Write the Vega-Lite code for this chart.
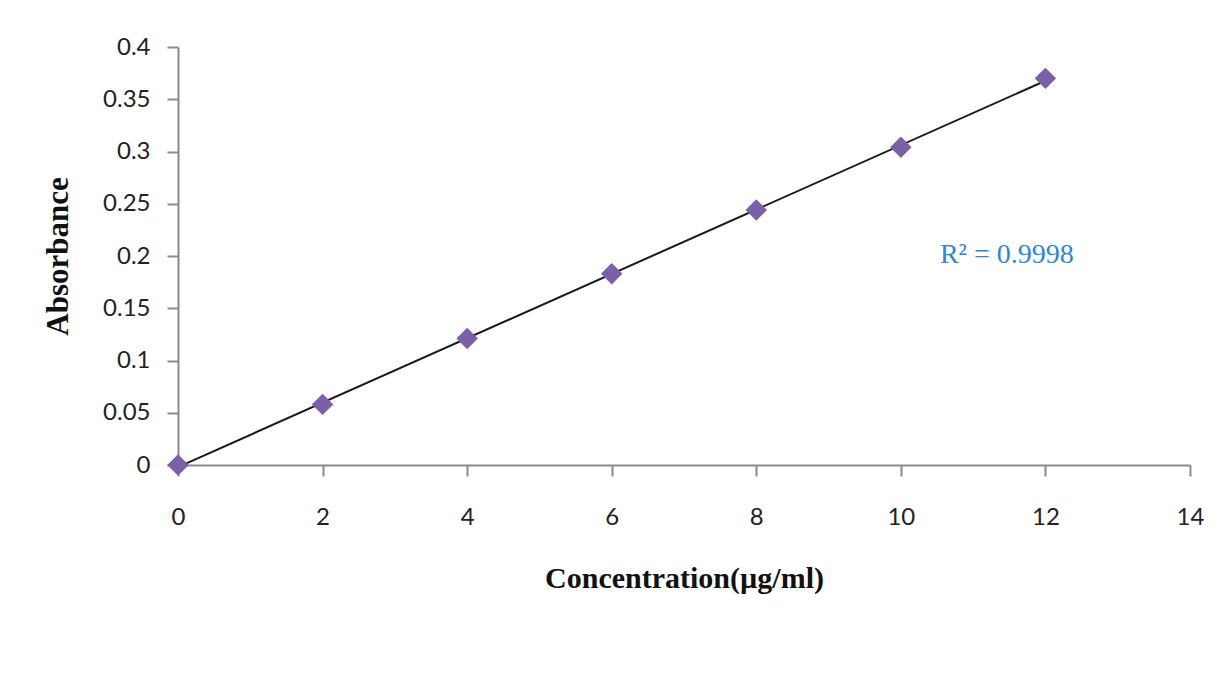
{
  "$schema": "https://vega.github.io/schema/vega-lite/v6.json",
  "autosize": "none",
  "width": 1012,
  "height": 418,
  "padding": {"left": 178, "top": 47, "right": 38, "bottom": 208},
  "background": "white",
  "config": {"view": {"stroke": null}},
  "datasets": {
    "pts": [
      {"conc": 0, "abs": 0.0},
      {"conc": 2, "abs": 0.058},
      {"conc": 4, "abs": 0.121},
      {"conc": 6, "abs": 0.183},
      {"conc": 8, "abs": 0.244},
      {"conc": 10, "abs": 0.304},
      {"conc": 12, "abs": 0.370}
    ],
    "ann": [{"conc": 10.54, "abs": 0.201, "label": "R² = 0.9998"}]
  },
  "layer": [
    {
      "data": {"name": "pts"},
      "transform": [{"regression": "abs", "on": "conc", "extent": [0, 12]}],
      "mark": {"type": "line", "color": "#1a1a1a", "strokeWidth": 2},
      "encoding": {
        "x": {"field": "conc", "type": "quantitative"},
        "y": {"field": "abs", "type": "quantitative"}
      }
    },
    {
      "data": {"name": "pts"},
      "mark": {"type": "point", "shape": "diamond", "filled": true, "color": "#7d5fa8", "size": 460, "opacity": 1},
      "encoding": {
        "x": {
          "field": "conc", "type": "quantitative",
          "scale": {"domain": [0, 14], "nice": false},
          "axis": {
            "values": [0, 2, 4, 6, 8, 10, 12, 14],
            "format": "~g",
            "labelFlush": false,
            "grid": false,
            "domainColor": "#8a8a8a", "domainWidth": 2,
            "tickColor": "#8a8a8a", "tickWidth": 2, "tickSize": 11,
            "labelFont": "Lato", "labelFontSize": 24, "labelColor": "#222222",
            "labelPadding": 29,
            "title": "Concentration(µg/ml)",
            "titleFont": "Liberation Serif", "titleFontSize": 30, "titleFontWeight": "bold",
            "titleColor": "#111111", "titlePadding": 34
          }
        },
        "y": {
          "field": "abs", "type": "quantitative",
          "scale": {"domain": [0, 0.4], "nice": false},
          "axis": {
            "values": [0, 0.05, 0.1, 0.15, 0.2, 0.25, 0.3, 0.35, 0.4],
            "format": "~g",
            "labelFlush": false,
            "grid": false,
            "domainColor": "#8a8a8a", "domainWidth": 2,
            "tickColor": "#8a8a8a", "tickWidth": 2, "tickSize": 11,
            "labelFont": "Lato", "labelFontSize": 24, "labelColor": "#222222",
            "labelPadding": 17,
            "title": "Absorbance",
            "titleFont": "Liberation Serif", "titleFontSize": 31, "titleFontWeight": "bold",
            "titleColor": "#111111", "titlePadding": 28
          }
        }
      }
    },
    {
      "data": {"name": "ann"},
      "mark": {"type": "text", "align": "left", "baseline": "middle", "font": "Liberation Serif", "fontSize": 28, "color": "#2f86d2"},
      "encoding": {
        "x": {"field": "conc", "type": "quantitative"},
        "y": {"field": "abs", "type": "quantitative"},
        "text": {"field": "label"}
      }
    }
  ]
}
